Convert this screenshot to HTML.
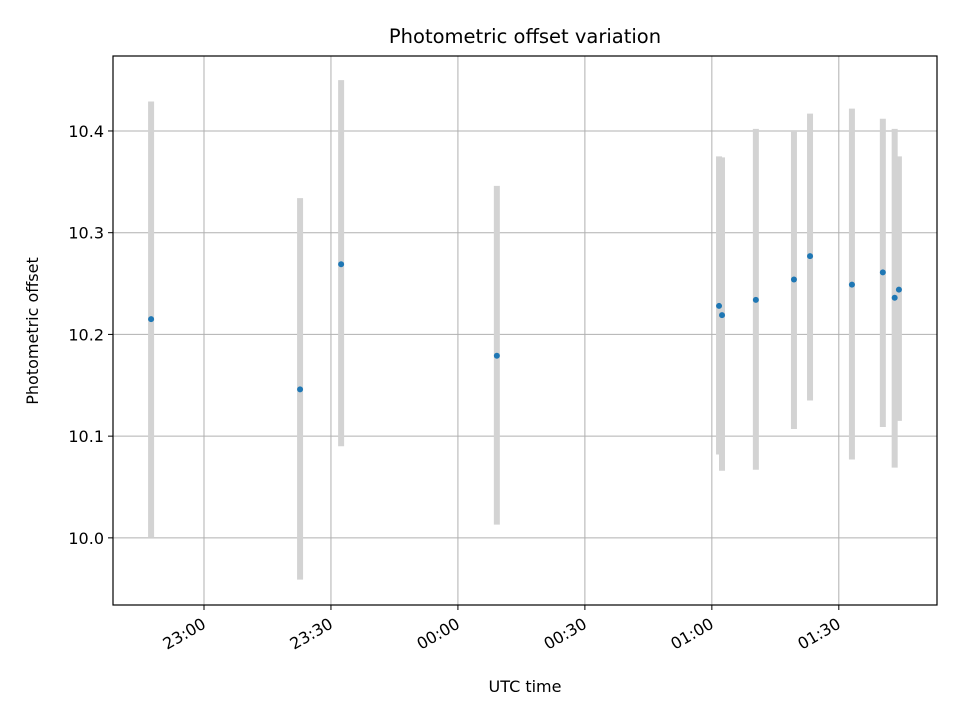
<!DOCTYPE html>
<html><head><meta charset="utf-8"><style>
body{margin:0;background:#fff;}
svg{font-family:"DejaVu Sans","Liberation Sans",sans-serif;}
</style></head><body>
<svg id="chart" width="960" height="720" xmlns="http://www.w3.org/2000/svg">
<rect width="960" height="720" fill="#fff"/>
<text x="525" y="43" text-anchor="middle" font-size="19.5">Photometric offset variation</text>
<g id="grid"></g><g id="bars"></g><g id="pts"></g>
<rect x="113" y="56" width="824" height="549" fill="none" stroke="#000" stroke-width="1.2"/>
<g id="axes"></g>
<text x="525" y="692" text-anchor="middle" font-size="16">UTC time</text>
<text transform="translate(38,331) rotate(-90)" text-anchor="middle" font-size="16">Photometric offset</text>
</svg>
<script>
// minutes after 23:00 UTC
const times=[-12.5,22.7,32.4,69.2,121.7,122.4,130.4,139.4,143.2,153.1,160.4,163.2,164.2];
const values=[10.215,10.146,10.269,10.179,10.228,10.219,10.234,10.254,10.277,10.249,10.261,10.236,10.244];
const upper=[10.429,10.334,10.45,10.346,10.375,10.374,10.402,10.4,10.417,10.422,10.412,10.402,10.375];
const lower=[10.0,9.959,10.09,10.013,10.082,10.066,10.067,10.107,10.135,10.077,10.109,10.069,10.115];
const xTicks=[0,30,60,90,120,150];
const xTickLabels=["23:00","23:30","00:00","00:30","01:00","01:30"];
const yTicks=[10.0,10.1,10.2,10.3,10.4];
const yTickLabels=["10.0","10.1","10.2","10.3","10.4"];
const X0=113,X1=937,Y0=56,Y1=605,xmin=-21.5,xmax=173.2,ymin=9.934,ymax=10.4737;
const xs=v=>X0+(v-xmin)/(xmax-xmin)*(X1-X0);
const ys=v=>Y1-(v-ymin)/(ymax-ymin)*(Y1-Y0);
const NS="http://www.w3.org/2000/svg";
function mk(t,a,p){const e=document.createElementNS(NS,t);for(const k in a)e.setAttribute(k,a[k]);p.appendChild(e);return e;}
const grid=document.getElementById('grid'),axes=document.getElementById('axes'),bars=document.getElementById('bars'),pts=document.getElementById('pts');
xTicks.forEach((t,i)=>{const x=xs(t);
 let g=mk('line',{x1:x,x2:x,y1:Y0,y2:Y1,stroke:'#b0b0b0','stroke-width':1},grid);
 
 let tk=mk('line',{x1:x,x2:x,y1:Y1,y2:Y1+5,stroke:'#000'},axes);
 
 let tx=mk('text',{transform:`translate(${x+3},${Y1+22}) rotate(-30)`,'text-anchor':'end','font-size':16},axes);
 tx.textContent=xTickLabels[i];
 
});
yTicks.forEach((t,i)=>{const y=ys(t);
 let g=mk('line',{x1:X0,x2:X1,y1:y,y2:y,stroke:'#b0b0b0','stroke-width':1},grid);
 
 let tk=mk('line',{x1:X0-5,x2:X0,y1:y,y2:y,stroke:'#000'},axes);
 
 let tx=mk('text',{x:X0-9,y:y+6,'text-anchor':'end','font-size':16},axes);
 tx.textContent=yTickLabels[i];
 
});
times.forEach((t,i)=>{const x=xs(t);
 let b=mk('line',{x1:x,x2:x,y1:ys(upper[i]),y2:ys(lower[i]),stroke:'#d3d3d3','stroke-width':6},bars);
 
 let c=mk('circle',{cx:x,cy:ys(values[i]),r:3,fill:'#1f77b4'},pts);
 
});
</script>
</body></html>
